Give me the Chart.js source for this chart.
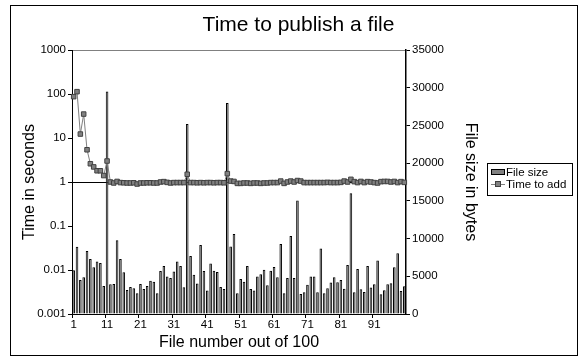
<!DOCTYPE html>
<html><head><meta charset="utf-8">
<script src="https://cdn.jsdelivr.net/npm/chart.js@4/dist/chart.umd.min.js"></script>
<style>html,body{margin:0;padding:0;background:#fff}#wrap{width:583px;height:358px}</style>
</head><body><div id="wrap"><canvas id="c" width="583" height="358"></canvas></div>
<script>
const titleText = "Time to publish a file";
const xTitle = "File number out of 100";
const yLeftTitle = "Time in seconds";
const yRightTitle = "File size in bytes";
const seriesNames = ["File size", "Time to add"];
const fileNumbers = Array.from({length: 100}, (_, i) => String(i + 1));
const fileSize = [5800, 8900, 4500, 4870, 8360, 7300, 6200, 6950, 6770, 3700,
29500, 3940, 3980, 9780, 7300, 5530, 3190, 3580, 3400, 2740,
3980, 3320, 3700, 4420, 4290, 2740, 5700, 6370, 4960, 4780,
5620, 6950, 6370, 3540, 25200, 7700, 5200, 4030, 9160, 5700,
3100, 6680, 5750, 5580, 3580, 3320, 27960, 8940, 10600, 2740,
4650, 4290, 6370, 3320, 3100, 4960, 5270, 5880, 3800, 5750,
6240, 4870, 9290, 2740, 4780, 10350, 4780, 15040, 2650, 2880,
3890, 4960, 4960, 2880, 8670, 2750, 3400, 4160, 4870, 4200,
4510, 3360, 6500, 16000, 2880, 5970, 3270, 2920, 6370, 3500,
3940, 7080, 2610, 3140, 3940, 4070, 6190, 8050, 3050, 3670];
const timeToAdd = [87, 113, 12.3, 35, 5.4, 2.6, 2.2, 1.8, 1.8, 1.4,
3.0, 1.0, 0.95, 1.03, 0.97, 0.96, 0.95, 0.95, 0.96, 0.9,
0.95, 0.95, 0.96, 0.96, 0.95, 0.95, 1.0, 1.02, 0.98, 0.95,
0.97, 0.97, 0.97, 0.97, 1.5, 0.97, 0.97, 0.96, 0.97, 0.96,
0.97, 0.97, 0.96, 0.97, 0.97, 0.96, 1.55, 1.05, 1.03, 0.93,
0.93, 0.95, 0.95, 0.93, 0.95, 0.95, 0.93, 0.95, 0.95, 0.97,
0.97, 0.97, 1.05, 0.93, 1.0, 1.05, 1.0, 1.08, 1.05, 0.97,
0.97, 0.97, 0.97, 0.97, 0.97, 0.97, 0.98, 0.97, 0.97, 0.97,
0.98, 1.05, 1.0, 1.15, 1.02, 0.97, 1.03, 0.97, 1.02, 1.0,
0.97, 0.95, 1.02, 1.03, 1.03, 1.0, 1.03, 0.97, 1.02, 0.98];
const leftTicks = [0.001, 0.01, 0.1, 1, 10, 100, 1000];
const leftTickLabels = ["0.001", "0.01", "0.1", "1", "10", "100", "1000"];

const FONT = "'Liberation Sans', Arial, sans-serif";
Chart.defaults.font.family = FONT;
Chart.defaults.color = '#000';

const frame = {
  id: 'frame',
  beforeDraw(chart) {
    const c = chart.ctx;
    c.save();
    c.fillStyle = '#fff';
    c.fillRect(0, 0, chart.width, chart.height);
    c.strokeStyle = '#000';
    c.lineWidth = 1;
    c.strokeRect(10.5, 5.5, 567, 350);
    c.restore();
  },
  afterDraw(chart) {
    const c = chart.ctx;
    c.save();
    c.strokeStyle = '#000';
    c.lineWidth = 1;
    c.strokeRect(487.5, 163.5, 85, 32);
    c.font = "11.5px " + FONT;
    c.textBaseline = 'middle';
    c.fillStyle = '#808080';
    c.fillRect(491, 169, 14, 6);
    c.strokeRect(491.5, 169.5, 13, 5);
    c.fillStyle = '#000';
    c.fillText(chart.data.datasets[1].label, 506, 172.5);
    c.strokeStyle = '#808080';
    c.beginPath(); c.moveTo(491, 184.5); c.lineTo(505, 184.5); c.stroke();
    c.fillStyle = '#808080';
    c.fillRect(496, 182, 5, 5);
    c.strokeStyle = '#404040';
    c.strokeRect(495.5, 181.5, 5, 5);
    c.fillStyle = '#000';
    c.fillText(chart.data.datasets[0].label, 506, 184.5);
    c.restore();
  }
};

new Chart(document.getElementById('c'), {
  type: 'bar',
  data: {
    labels: fileNumbers,
    datasets: [
      {
        type: 'line', label: seriesNames[1], data: timeToAdd, yAxisID: 'yL', order: 1,
        borderColor: '#808080', borderWidth: 1, tension: 0,
        pointStyle: 'rect', pointRadius: 3.2, pointBackgroundColor: '#808080',
        pointBorderColor: '#404040', pointBorderWidth: 1
      },
      {
        type: 'bar', label: seriesNames[0], data: fileSize, yAxisID: 'yR', order: 2,
        backgroundColor: '#6e6e6e', borderColor: '#000', borderWidth: 1,
        barPercentage: 0.78, categoryPercentage: 1
      }
    ]
  },
  options: {
    responsive: false,
    animation: false,
    events: [],
    layout: { padding: { left: 14, right: 0, top: 0, bottom: 2 } },
    plugins: {
      legend: { display: false },
      tooltip: { enabled: false },
      title: {
        display: true, text: titleText, color: '#000',
        font: { size: 21, weight: 'normal', family: FONT, lineHeight: 1.2 },
        padding: { top: 12.5, bottom: 12.3 }
      }
    },
    scales: {
      x: {
        type: 'category', offset: true,
        afterFit: s => { s.height = 358 - 2 - 314; },
        grid: {
          offset: true, drawOnChartArea: false, tickLength: 4,
          color: ctx => (ctx.index % 10 === 0 ? '#000' : 'rgba(0,0,0,0)')
        },
        border: { color: '#000', width: 1 },
        ticks: {
          autoSkip: false, maxRotation: 0, padding: 0,
          font: { size: 11.5 },
          callback: (v, i) => (i % 10 === 0 ? fileNumbers[i] : '')
        },
        title: { display: true, text: xTitle, font: { size: 16 }, padding: { top: 0, bottom: 4 } }
      },
      yL: {
        type: 'logarithmic', position: 'left', min: 0.001, max: 1000,
        afterFit: s => { s.width = 58; },
        afterBuildTicks: s => { s.ticks = leftTicks.map(v => ({ value: v })); },
        grid: {
          drawOnChartArea: true, tickLength: 4, tickColor: '#000',
          color: ctx => {
            const v = ctx.tick && ctx.tick.value;
            if (v === 1) return '#000';
            if (v === 1000) return '#808080';
            return 'rgba(0,0,0,0)';
          }
        },
        border: { color: '#000', width: 1 },
        ticks: {
          padding: 2, font: { size: 11.5 },
          callback: v => { const i = leftTicks.indexOf(v); return i >= 0 ? leftTickLabels[i] : ''; }
        },
        title: { display: true, text: yLeftTitle, font: { size: 16 }, padding: { top: 6, bottom: 0 } }
      },
      yR: {
        type: 'linear', position: 'right', min: 0, max: 35000,
        afterFit: s => { s.width = 583 - 406; },
        grid: { drawOnChartArea: false, tickLength: 4, color: '#000' },
        border: { color: '#000', width: 1.5 },
        ticks: { stepSize: 5000, padding: 2, font: { size: 11.5 }, callback: v => String(v) },
        title: { display: true, text: yRightTitle, font: { size: 16 }, padding: { top: 103, bottom: 0 } }
      }
    }
  },
  plugins: [frame]
});
</script>
</body></html>
